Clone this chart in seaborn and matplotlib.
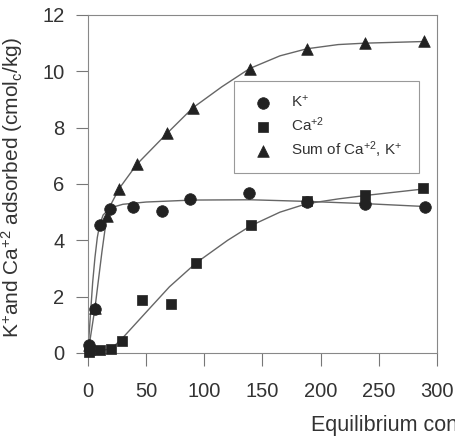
import numpy as np
import pandas as pd
import seaborn as sns
import matplotlib.pyplot as plt

k_x = [0.5, 6, 10, 19, 39, 64, 88, 138, 188, 238, 290]
k_y = [0.3, 1.56, 4.55, 5.13, 5.2, 5.05, 5.45, 5.68, 5.36, 5.3, 5.18]
ca_x = [0.5, 2, 10, 20, 29, 46, 71, 93, 140, 188, 238, 288]
ca_y = [0.02, 0.12, 0.1, 0.14, 0.42, 1.88, 1.74, 3.2, 4.54, 5.38, 5.6, 5.85]
sum_x = [0.5, 6, 16, 27, 42, 68, 90, 139, 188, 238, 289]
sum_y = [0.3, 1.6, 4.85, 5.82, 6.7, 7.8, 8.7, 10.1, 10.8, 11.0, 11.06]

# fitted curves
k_fit_x = [0, 2, 4, 6, 8, 10, 13, 19, 30, 50, 90, 140, 190, 240, 290]
k_fit_y = [0.1, 1.3, 2.5, 3.4, 4.1, 4.55, 4.9, 5.15, 5.28, 5.36, 5.43, 5.44, 5.38, 5.3, 5.2]
ca_fit_x = [0, 10, 20, 29, 50, 70, 93, 120, 140, 165, 188, 215, 240, 290]
ca_fit_y = [0.05, 0.08, 0.15, 0.5, 1.45, 2.35, 3.2, 4.0, 4.52, 5.0, 5.3, 5.47, 5.6, 5.83]
sum_fit_x = [0, 3, 6, 9, 12, 16, 20, 27, 42, 68, 90, 115, 139, 165, 188, 215, 238, 290]
sum_fit_y = [0, 0.8, 1.6, 2.6, 3.6, 4.8, 5.3, 5.85, 6.7, 7.8, 8.7, 9.45, 10.1, 10.55, 10.8, 10.95, 11.0, 11.06]

labels = [r'K$^{+}$', r'Ca$^{+2}$', r'Sum of Ca$^{+2}$, K$^{+}$']
x_ticks = [0, 50, 100, 150, 200, 250, 300]
y_ticks = [0, 2, 4, 6, 8, 10, 12]

sns.set_style("ticks")
plt.rcParams['font.family'] = ['Liberation Sans', 'DejaVu Sans']
plt.rcParams['mathtext.fontset'] = 'custom'
plt.rcParams['mathtext.rm'] = 'Liberation Sans'
plt.rcParams['mathtext.it'] = 'Liberation Sans'

fig = plt.figure(figsize=(4.56, 4.41), dpi=100)
ax = fig.add_axes([88 / 456, 1 - 353 / 441, 349 / 456, 338 / 441])

line_col = '#666666'
mk_col = '#222222'

for fx, fy in [(k_fit_x, k_fit_y), (ca_fit_x, ca_fit_y), (sum_fit_x, sum_fit_y)]:
    sns.lineplot(x=fx, y=fy, ax=ax, color=line_col, lw=1.0, estimator=None, legend=False)

series = [(k_x, k_y, 'o', 70), (ca_x, ca_y, 's', 60), (sum_x, sum_y, '^', 70)]
for (sx, sy, m, s), lab in zip(series, labels):
    sns.scatterplot(x=sx, y=sy, ax=ax, marker=m, s=s, color=mk_col,
                    edgecolor=mk_col, linewidth=0.5, label=lab, zorder=3, clip_on=False)

ax.set_xlim(0, 300)
ax.set_ylim(0, 12)
ax.set_xticks(x_ticks)
ax.set_yticks(y_ticks)
ax.tick_params(direction='out', length=9, width=0.8, color='#777777',
               labelsize=14.5, labelcolor='#333333')
ax.tick_params(axis='y', pad=8)
ax.tick_params(axis='x', pad=12)
for sp in ax.spines.values():
    sp.set_color('#888888')
    sp.set_linewidth(0.8)

ax.set_ylabel(r'K$^{+}$and Ca$^{+2}$ adsorbed (cmol$_{c}$/kg)', fontsize=15, color='#333333')
ax.yaxis.set_label_coords(-0.18, 0.49)
ax.set_xlabel('')
fig.text(311 / 456, 1 - 426 / 441, 'Equilibrium concentration (mg/L)',
         fontsize=15.5, color='#333333', ha='left', va='center')

leg = ax.legend(loc='upper left', bbox_to_anchor=(0.418, 0.805, 0.53, 0.0), mode='expand',
                frameon=True, fancybox=False, fontsize=11, labelspacing=0.35,
                borderpad=0.85, handletextpad=0.8, borderaxespad=0, handlelength=2.1,
                framealpha=1)
leg.get_frame().set_edgecolor('#999999')
leg.get_frame().set_linewidth(0.8)
for t in leg.get_texts():
    t.set_color('#333333')

fig.savefig('out.png', dpi=100)
